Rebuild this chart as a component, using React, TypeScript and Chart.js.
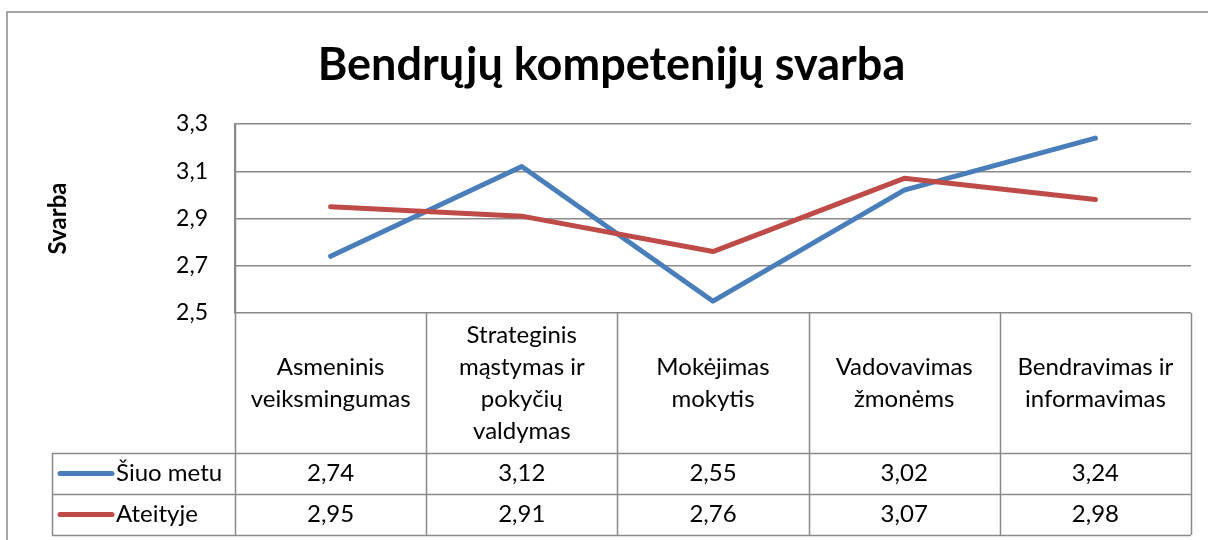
import React, { useEffect, useRef } from "react";
import { Chart, registerables } from "chart.js";

Chart.register(...registerables);

const TITLE = "Bendrųjų kompetenijų svarba";
const Y_TITLE = "Svarba";
const CATEGORIES: string[][] = [
  ["Asmeninis", "veiksmingumas"],
  ["Strateginis", "mąstymas ir", "pokyčių", "valdymas"],
  ["Mokėjimas", "mokytis"],
  ["Vadovavimas", "žmonėms"],
  ["Bendravimas ir", "informavimas"],
];
const SERIES_NAMES = ["Šiuo metu", "Ateityje"];
const SIUO_METU = [2.74, 3.12, 2.55, 3.02, 3.24];
const ATEITYJE = [2.95, 2.91, 2.76, 3.07, 2.98];
const Y_MIN = 2.5;
const Y_MAX = 3.3;
const Y_STEP = 0.2;

const FONT = "Lato, 'Open Sans', sans-serif";
const GRID = "#8a8a8a";

const fmt = (v: number, d: number) => v.toFixed(d).replace(".", ",");

const tablePlugin = {
  id: "dataTable",
  beforeDraw(chart: any) {
    const { ctx } = chart;
    ctx.save();
    ctx.strokeStyle = GRID;
    ctx.lineWidth = 1.5;
    ctx.strokeRect(7, 12, 1400, 800);
    ctx.restore();
  },
  afterDraw(chart: any) {
    const { ctx, chartArea } = chart;
    const xs = chart.scales.x;
    const n = CATEGORIES.length;
    const left = chartArea.left;
    const right = chartArea.right;
    const colW = (right - left) / n;
    const top = chartArea.bottom;
    const headerBottom = top + 140;
    const rowH = 41;
    const legendLeft = 52;
    const tableBottom = headerBottom + rowH * 2;

    ctx.save();
    ctx.strokeStyle = GRID;
    ctx.lineWidth = 1.5;
    ctx.beginPath();
    for (let k = 0; k <= n; k++) {
      const x = Math.round(left + k * colW) + 0.5;
      ctx.moveTo(x, k === 0 ? chartArea.top : top);
      ctx.lineTo(x, tableBottom);
    }
    ctx.moveTo(legendLeft + 0.5, headerBottom);
    ctx.lineTo(legendLeft + 0.5, tableBottom);
    for (let r = 0; r <= 2; r++) {
      const y = Math.round(headerBottom + r * rowH) + 0.5;
      ctx.moveTo(legendLeft, y);
      ctx.lineTo(right, y);
    }
    ctx.stroke();

    ctx.fillStyle = "#000";
    ctx.textAlign = "center";
    ctx.textBaseline = "middle";
    ctx.font = `24px ${FONT}`;
    const lh = 32;
    CATEGORIES.forEach((lines, i) => {
      const cx = xs.getPixelForValue(i);
      const cy = (top + headerBottom) / 2;
      const start = cy - ((lines.length - 1) * lh) / 2;
      lines.forEach((ln, j) => ctx.fillText(ln, cx, start + j * lh));
    });

    chart.data.datasets.forEach((ds: any, r: number) => {
      const cy = headerBottom + r * rowH + rowH / 2;
      ctx.strokeStyle = ds.borderColor;
      ctx.lineWidth = 5;
      ctx.lineCap = "round";
      ctx.beginPath();
      ctx.moveTo(60, cy);
      ctx.lineTo(112, cy);
      ctx.stroke();
      ctx.textAlign = "left";
      ctx.fillText(SERIES_NAMES[r], 116, cy);
      ctx.textAlign = "center";
      ds.data.forEach((v: number, i: number) => {
        ctx.fillText(fmt(v, 2), xs.getPixelForValue(i), cy);
      });
    });
    ctx.restore();
  },
};

export default function App() {
  const ref = useRef<HTMLCanvasElement | null>(null);
  useEffect(() => {
    if (!ref.current) return;
    const chart = new Chart(ref.current, {
      type: "line",
      data: {
        labels: CATEGORIES.map((c) => c.join(" ")),
        datasets: [
          {
            label: SERIES_NAMES[0],
            data: SIUO_METU,
            borderColor: "#4a7ebb",
            backgroundColor: "#4a7ebb",
            borderWidth: 5,
            pointRadius: 0,
            borderCapStyle: "round",
            borderJoinStyle: "round",
            tension: 0,
            order: 1,
          },
          {
            label: SERIES_NAMES[1],
            data: ATEITYJE,
            borderColor: "#be4b48",
            backgroundColor: "#be4b48",
            borderWidth: 5,
            pointRadius: 0,
            borderCapStyle: "round",
            borderJoinStyle: "round",
            tension: 0,
            order: 0,
          },
        ],
      },
      options: {
        animation: false,
        responsive: false,
        maintainAspectRatio: false,
        layout: { padding: { left: 32, top: 0, right: 17, bottom: 227 } },
        plugins: {
          legend: { display: false },
          tooltip: { enabled: false },
          title: {
            display: true,
            text: TITLE,
            color: "#000",
            font: { family: FONT, size: 45, weight: "bold", lineHeight: 1.2 },
            padding: { top: 38, bottom: 32 },
          },
        },
        scales: {
          x: {
            type: "category",
            offset: true,
            display: false,
            grid: { display: false },
          },
          y: {
            min: Y_MIN,
            max: Y_MAX,
            afterFit: (s: any) => {
              s.width = 203;
            },
            ticks: {
              stepSize: Y_STEP,
              color: "#000",
              padding: 27,
              font: { family: FONT, size: 23 },
              callback: (v: any) => fmt(Number(v), 1),
            },
            grid: { color: GRID, lineWidth: 1.5, drawTicks: false },
            border: { display: true, color: GRID, width: 1.5 },
            title: {
              display: true,
              text: Y_TITLE,
              color: "#000",
              font: { family: FONT, size: 24, weight: "bold", lineHeight: 1.2 },
              padding: { top: 12, bottom: 0 },
            },
          },
        },
      },
      plugins: [tablePlugin],
    });
    return () => chart.destroy();
  }, []);
  return (
    <div style={{ position: "fixed", left: 0, top: 0, width: 1208, height: 540, background: "#fff" }}>
      <canvas ref={ref} width={1208} height={540} style={{ display: "block" }} />
    </div>
  );
}
